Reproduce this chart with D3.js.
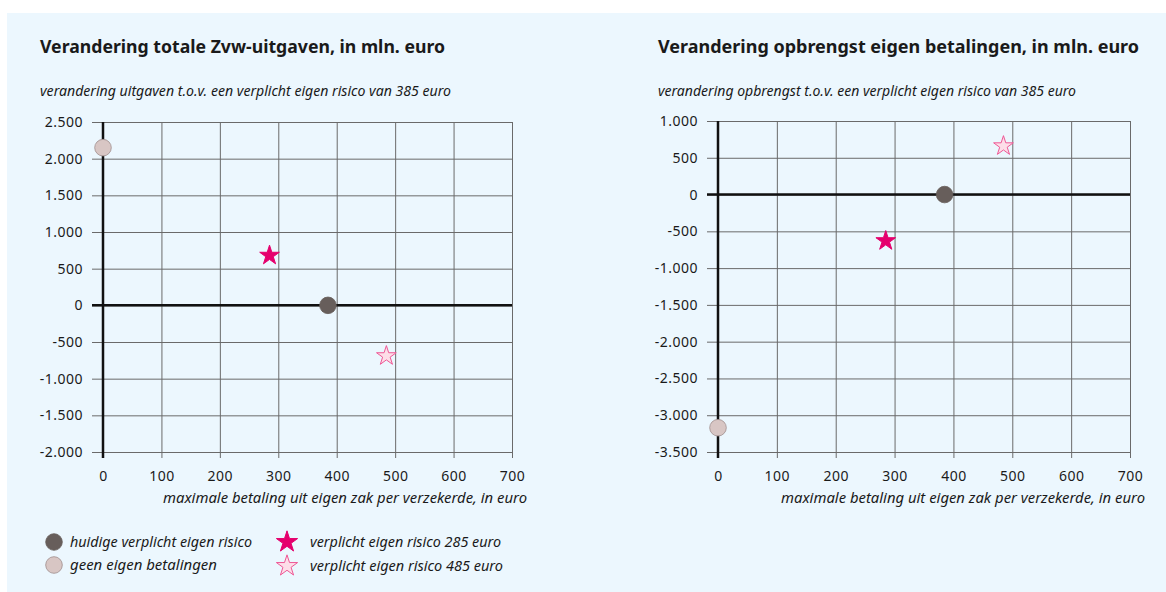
<!DOCTYPE html>
<html>
<head>
<meta charset="utf-8">
<script src="https://cdn.jsdelivr.net/npm/d3@7"></script>
<style>
  body { margin: 0; background: #fff; }
  svg { display: block; }
  text { font-family: "Noto Sans", "DejaVu Sans", sans-serif; fill: #1a1a1a; }
</style>
</head>
<body>
<div id="chart"></div>
<script>
// x-values: maximale betaling uit eigen zak (euro)
const xTicks = [0, 100, 200, 300, 400, 500, 600, 700];

// series: [x, y] per scenario
const scenarios = ["huidig", "geen", "er285", "er485"];
const scenarioX = [385, 0, 285, 485];
const uitgavenY = [0, 2150, 680, -690];
const opbrengstY = [0, -3170, -630, 660];

const uitgavenTicks = [2500, 2000, 1500, 1000, 500, 0, -500, -1000, -1500, -2000];
const opbrengstTicks = [1000, 500, 0, -500, -1000, -1500, -2000, -2500, -3000, -3500];

const legendLabels = [
    "huidige verplicht eigen risico",
    "geen eigen betalingen",
    "verplicht eigen risico 285 euro",
    "verplicht eigen risico 485 euro"
];

const width = 1166;
const height = 592;

const style = {
    huidig: { shape: "circle", fill: "#675e5b", stroke: "#675e5b" },
    geen:   { shape: "circle", fill: "#d8c6c4", stroke: "#a08d8b" },
    er285:  { shape: "star", fill: "#e5006d", stroke: "#e5006d" },
    er485:  { shape: "star", fill: "#fddde8", stroke: "#ee5795" }
};

// dutch style thousands separator, plain hyphen for negatives
const fmt = v => d3.format(",")(v).replace(/,/g, ".").replace("\u2212", "-");

const svg = d3.select("#chart").append("svg")
    .attr("width", width)
    .attr("height", height);

// light blue panel
svg.append("rect")
    .attr("x", 7).attr("y", 13)
    .attr("width", width - 7).attr("height", height - 13)
    .attr("fill", "#ecf7fe");

function drawMark(g, key, x, y, big) {
    const s = style[key];
    if (s.shape === "circle") {
        g.append("circle")
            .attr("cx", x).attr("cy", y).attr("r", 8.3)
            .attr("fill", s.fill).attr("stroke", s.stroke).attr("stroke-width", 0.8);
    } else {
        g.append("path")
            .attr("d", d3.symbol().type(d3.symbolStar).size(big ? 140 : 120)())
            .attr("transform", `translate(${x},${y})`)
            .attr("fill", s.fill).attr("stroke", s.stroke).attr("stroke-width", 1);
    }
}

function styleTicks(a) {
    a.selectAll(".tick text")
        .attr("font-family", "'Noto Sans', sans-serif")
        .attr("font-size", 14).attr("letter-spacing", 0.5).attr("fill", "#1a1a1a");
}

function drawPanel(opts) {
    const xScale = d3.scaleLinear().domain([0, 700]).range([opts.left, opts.right]);
    const yScale = d3.scaleLinear()
        .domain([opts.yTicks[opts.yTicks.length - 1], opts.yTicks[0]])
        .range([452, opts.top]);

    svg.append("text")
        .attr("x", opts.titleX).attr("y", 53)
        .attr("font-size", 18).attr("font-weight", "bold")
        .attr("textLength", opts.titleLen).attr("lengthAdjust", "spacingAndGlyphs")
        .text(opts.title);

    svg.append("text")
        .attr("x", opts.titleX).attr("y", 96)
        .attr("font-size", 15).attr("font-style", "italic")
        .attr("textLength", opts.subLen).attr("lengthAdjust", "spacingAndGlyphs")
        .text(opts.subtitle);

    const g = svg.append("g");

    // horizontal grid with left tick marks
    g.append("g")
        .attr("transform", `translate(${opts.left},0)`)
        .call(d3.axisLeft(yScale).tickValues(opts.yTicks)
            .tickSize(-(opts.right - opts.left)).tickPadding(20).tickFormat(fmt))
        .call(a => a.select(".domain").remove())
        .call(a => a.selectAll(".tick line").attr("stroke", "#6a6a6a").attr("x1", -11))
        .call(styleTicks);

    // vertical grid with bottom tick marks
    g.append("g")
        .attr("transform", `translate(0,452)`)
        .call(d3.axisBottom(xScale).tickValues(xTicks)
            .tickSize(-(452 - opts.top)).tickPadding(19).tickFormat(d => d))
        .call(a => a.select(".domain").remove())
        .call(a => a.selectAll(".tick line").attr("stroke", "#6a6a6a").attr("y1", 6))
        .call(styleTicks);

    // zero axes
    g.append("line")
        .attr("x1", xScale(0)).attr("x2", xScale(0))
        .attr("y1", opts.top).attr("y2", 458)
        .attr("stroke", "#111").attr("stroke-width", 2.5);
    g.append("line")
        .attr("x1", opts.left - 11).attr("x2", opts.right)
        .attr("y1", yScale(0)).attr("y2", yScale(0))
        .attr("stroke", "#111").attr("stroke-width", 2.5);

    svg.append("text")
        .attr("x", opts.right + 15).attr("y", 503)
        .attr("text-anchor", "end")
        .attr("font-size", 15).attr("font-style", "italic")
        .attr("textLength", 364).attr("lengthAdjust", "spacingAndGlyphs")
        .text("maximale betaling uit eigen zak per verzekerde, in euro");

    const marks = svg.append("g");
    scenarios.forEach((k, i) => {
        drawMark(marks, k, xScale(scenarioX[i]), yScale(opts.values[i]), false);
    });
}

drawPanel({
    left: 103, right: 512, top: 122,
    titleX: 40, titleLen: 405, subLen: 411,
    title: "Verandering totale Zvw-uitgaven, in mln. euro",
    subtitle: "verandering uitgaven t.o.v. een verplicht eigen risico van 385 euro",
    yTicks: uitgavenTicks,
    values: uitgavenY
});

drawPanel({
    left: 718, right: 1130, top: 121,
    titleX: 658, titleLen: 481, subLen: 418,
    title: "Verandering opbrengst eigen betalingen, in mln. euro",
    subtitle: "verandering opbrengst t.o.v. een verplicht eigen risico van 385 euro",
    yTicks: opbrengstTicks,
    values: opbrengstY
});

// legend
const legendPos = [[54, 542, 70], [54, 565, 70], [287, 542, 310], [287, 566, 310]];
const legendLen = [182, 147, 191, 193];
const legend = svg.append("g");
scenarios.forEach((k, i) => {
    const [mx, my, tx] = legendPos[i];
    drawMark(legend, k, mx, my, true);
    legend.append("text")
        .attr("x", tx).attr("y", my + 5)
        .attr("font-size", 15).attr("font-style", "italic")
        .attr("textLength", legendLen[i]).attr("lengthAdjust", "spacingAndGlyphs")
        .text(legendLabels[i]);
});
</script>
</body>
</html>
